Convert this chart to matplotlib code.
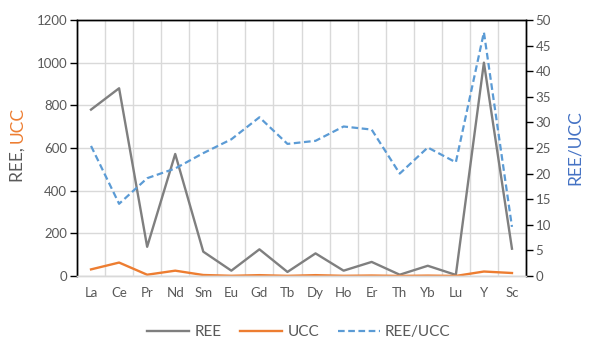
import matplotlib
matplotlib.use("Agg")
import matplotlib.pyplot as plt
import numpy as np

plt.rcParams["font.family"] = ["Lato", "DejaVu Sans"]

elements = ["La", "Ce", "Pr", "Nd", "Sm", "Eu", "Gd", "Tb", "Dy", "Ho",
            "Er", "Th", "Yb", "Lu", "Y", "Sc"]
ree = [780, 880, 137, 572, 114, 25, 125, 19, 106, 25, 66, 6, 48, 5, 1000, 128]
ucc = [31, 63, 6, 25, 4.7, 1, 4, 0.7, 4, 0.9, 2.3, 0.3, 1.9, 0.3, 21, 14]
ratio = [25.4, 14.1, 19.1, 21.0, 24.0, 26.7, 31.0, 25.8, 26.4, 29.2, 28.6,
         20.0, 25.1, 22.2, 47.6, 9.6]

GREY = "#7f7f7f"
ORANGE = "#ED7D31"
BLUE = "#5B9BD5"
TXT = "#595959"
GRID = "#d9d9d9"

fig = plt.figure(figsize=(6.07, 3.49), dpi=100)
ax = fig.add_axes([77 / 607, 1 - 276 / 349, 449 / 607, 256 / 349])
ax2 = ax.twinx()

x = np.arange(len(elements))
l1, = ax.plot(x, ree, color=GREY, lw=1.7, label="REE")
l2, = ax.plot(x, ucc, color=ORANGE, lw=1.7, label="UCC")
l3, = ax2.plot(x, ratio, color=BLUE, lw=1.6, dashes=(3, 1.6), label="REE/UCC")

ax.set_xlim(-0.5, len(elements) - 0.5)
ax.set_ylim(0, 1200)
ax.set_yticks(range(0, 1201, 200))
ax2.set_ylim(0, 50)
ax2.set_yticks(range(0, 51, 5))

ax.set_xticks(x)
ax.set_xticklabels(elements)
ax.set_xticks(np.arange(-0.5, len(elements)), minor=True)
ax.grid(True, which="minor", axis="x", color=GRID, lw=1)
ax.grid(True, which="major", axis="y", color=GRID, lw=1)
ax.set_axisbelow(True)

ax.tick_params(axis="x", which="both", length=0, labelsize=9.5,
               labelcolor=TXT, pad=8)
ax.tick_params(axis="y", length=5, width=1, color="black",
               labelsize=9.5, labelcolor=TXT, pad=2)
ax2.tick_params(axis="y", length=5, width=1, color="black",
                labelsize=9.5, labelcolor=TXT, pad=2)

for a in (ax, ax2):
    a.spines["bottom"].set_color(GRID)
    a.spines["left"].set_color("black")
    a.spines["right"].set_color("black")
    a.spines["top"].set_color("black")
    for s in a.spines.values():
        s.set_linewidth(1)

# two-colour left axis title
t1 = fig.text(18 / 607, 1 - 182 / 349, "REE, ", rotation=90, color=TXT,
              fontsize=12.5, ha="center", va="bottom")
fig.canvas.draw()
bb = t1.get_window_extent()
fig.text(18 / 607, bb.y1 / fig.bbox.height, "UCC", rotation=90,
         color=ORANGE, fontsize=12.5, ha="center", va="bottom")

fig.text(575 / 607, 1 - 148 / 349, "REE/UCC", rotation=90, color="#4472C4",
         fontsize=12.5, ha="center", va="center")

fig.legend(handles=[l1, l2, l3], loc="center", ncol=3, frameon=False,
           bbox_to_anchor=(299 / 607, 1 - 332 / 349), fontsize=11,
           handlelength=2.75, columnspacing=1.2, handletextpad=0.35,
           labelcolor=TXT)

fig.savefig("out.png", dpi=100)
